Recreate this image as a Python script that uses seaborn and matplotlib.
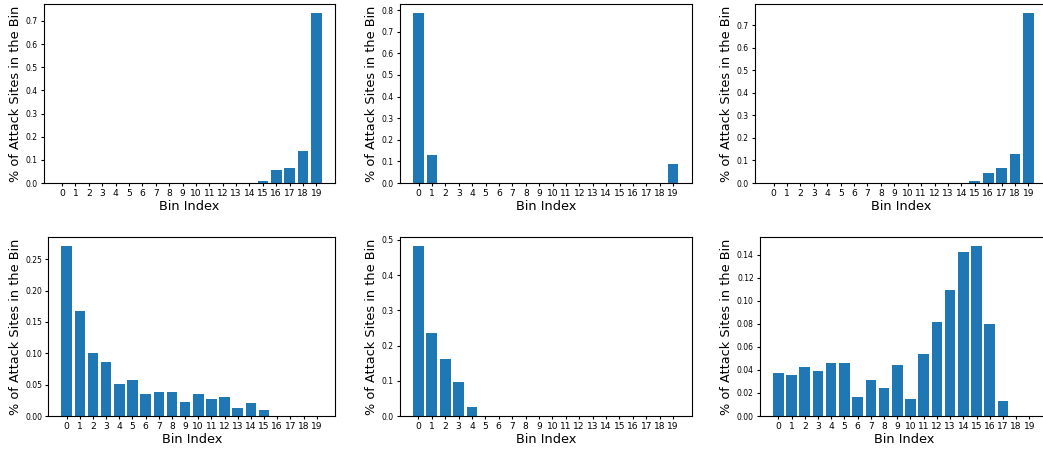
import matplotlib
matplotlib.use("Agg")
import matplotlib.pyplot as plt
import seaborn as sns
import pandas as pd

bins = [str(i) for i in range(20)]

vals_a = [0, 0, 0, 0, 0, 0, 0, 0, 0, 0, 0, 0, 0, 0, 0, 0.009, 0.056, 0.065, 0.138, 0.736]
vals_b = [0.789, 0.129, 0, 0, 0, 0, 0, 0, 0, 0, 0, 0, 0, 0, 0, 0, 0, 0, 0, 0.088]
vals_c = [0, 0, 0, 0, 0, 0, 0, 0, 0, 0, 0, 0, 0, 0, 0, 0.009, 0.044, 0.066, 0.128, 0.756]
vals_d = [0.2717, 0.168, 0.100, 0.0858, 0.0508, 0.0572, 0.035, 0.038, 0.038, 0.022,
          0.035, 0.027, 0.030, 0.0127, 0.0207, 0.0095, 0, 0, 0, 0]
vals_e = [0.484, 0.235, 0.161, 0.096, 0.025, 0, 0, 0, 0, 0, 0, 0, 0, 0, 0, 0, 0, 0, 0, 0]
vals_f = [0.0372, 0.0354, 0.0424, 0.0389, 0.0458, 0.0458, 0.0164, 0.0311, 0.0242, 0.0441,
          0.0147, 0.0536, 0.0813, 0.1089, 0.1418, 0.1478, 0.0795, 0.0130, 0, 0]

series = [vals_a, vals_b, vals_c, vals_d, vals_e, vals_f]

W, H = 1043, 453
fig = plt.figure(figsize=(W / 100, H / 100), dpi=100)

# axes rectangles in pixels: (left, top, right, bottom)
rects = [
    (43.5, 4, 335, 183),
    (400, 4, 691.7, 183),
    (755, 4, 1047, 183),
    (48.4, 237, 335, 416),
    (399.7, 237, 691.7, 416),
    (760, 237, 1047.7, 416),
]

for vals, (l, t, r, b) in zip(series, rects):
    ax = fig.add_axes([l / W, 1 - b / H, (r - l) / W, (b - t) / H])
    df = pd.DataFrame({"bin": bins, "value": vals})
    sns.barplot(data=df, x="bin", y="value", order=bins, color="#1f77b4",
                saturation=1, width=0.8, ax=ax)
    ax.set_xlim(-1.39, 20.39)
    ax.set_ylim(0, max(vals) * 1.05)
    ax.set_xlabel("Bin Index", fontsize=9.3, labelpad=1.0)
    ax.set_ylabel("% of Attack Sites in the Bin", fontsize=9.3, labelpad=2.5)
    ax.tick_params(axis="x", labelsize=6.6, length=2.5, pad=2)
    ax.tick_params(axis="y", labelsize=5.5, length=2.5, pad=2)

fig.savefig("out.png", dpi=100)
